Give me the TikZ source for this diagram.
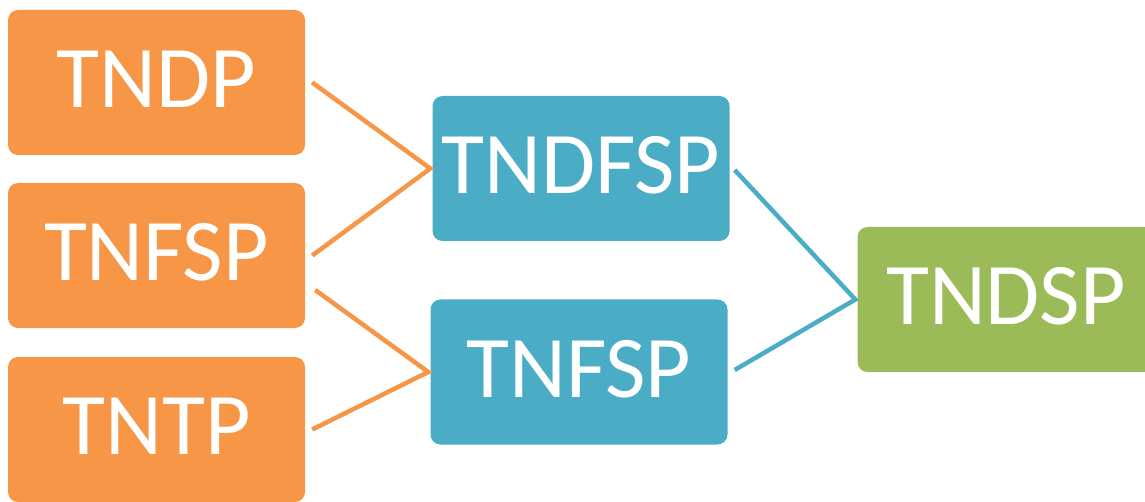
\documentclass[tikz,border=0pt]{standalone}
\usepackage{fontspec}
\setmainfont{Carlito}
\usetikzlibrary{calc}
\definecolor{oorange}{HTML}{F79646}
\definecolor{oblue}{HTML}{4BACC6}
\definecolor{ogreen}{HTML}{9BBB59}
\tikzset{
  box/.style={rounded corners=10pt, minimum width=297pt, minimum height=145pt, inner sep=0pt,
    text=white, font=\fontsize{88}{88}\selectfont, text height=57pt, text depth=7pt},
  obox/.style={box, fill=oorange},
  bbox/.style={box, fill=oblue},
  gbox/.style={box, fill=ogreen},
  oline/.style={draw=oorange, line width=4.5pt},
  bline/.style={draw=oblue, line width=4.5pt},
}
\begin{document}
\begin{tikzpicture}[x=1pt,y=1pt]
\clip (0,0) rectangle (1145,501);
\node[obox] (tndp) at (156.5,418.5) {TNDP};
\node[obox] (tnfsp) at (156.5,245.5) {TNFSP};
\node[obox] (tntp) at (156.5,71.5) {TNTP};
\node[bbox] (dfsp) at (581,332.5) {TNDFSP};
\node[bbox] (bfsp) at (579,129) {TNFSP};
\node[gbox] (dsp) at (1006,201.5) {TNDSP};
\coordinate (j1) at ($(dfsp.west)+(-2,0)$);
\coordinate (j2) at ($(bfsp.west)+(-2,0)$);
\coordinate (j3) at ($(dsp.west)+(-2,0)$);
\coordinate (s3) at ($(tnfsp.east)+(10,-34.5)$);
\draw[oline] ($(tndp.east)+(7,0)$) -- (j1) -- ($(tnfsp.east)+(7,0)$);
\draw[oline] (s3) -- (j2) -- ($(tntp.east)+(7,0)$);
\draw[bline] ($(dfsp.east)+(5,-1.5)$) -- (j3) -- ($(bfsp.east)+(7,2)$);
\end{tikzpicture}
\end{document}
